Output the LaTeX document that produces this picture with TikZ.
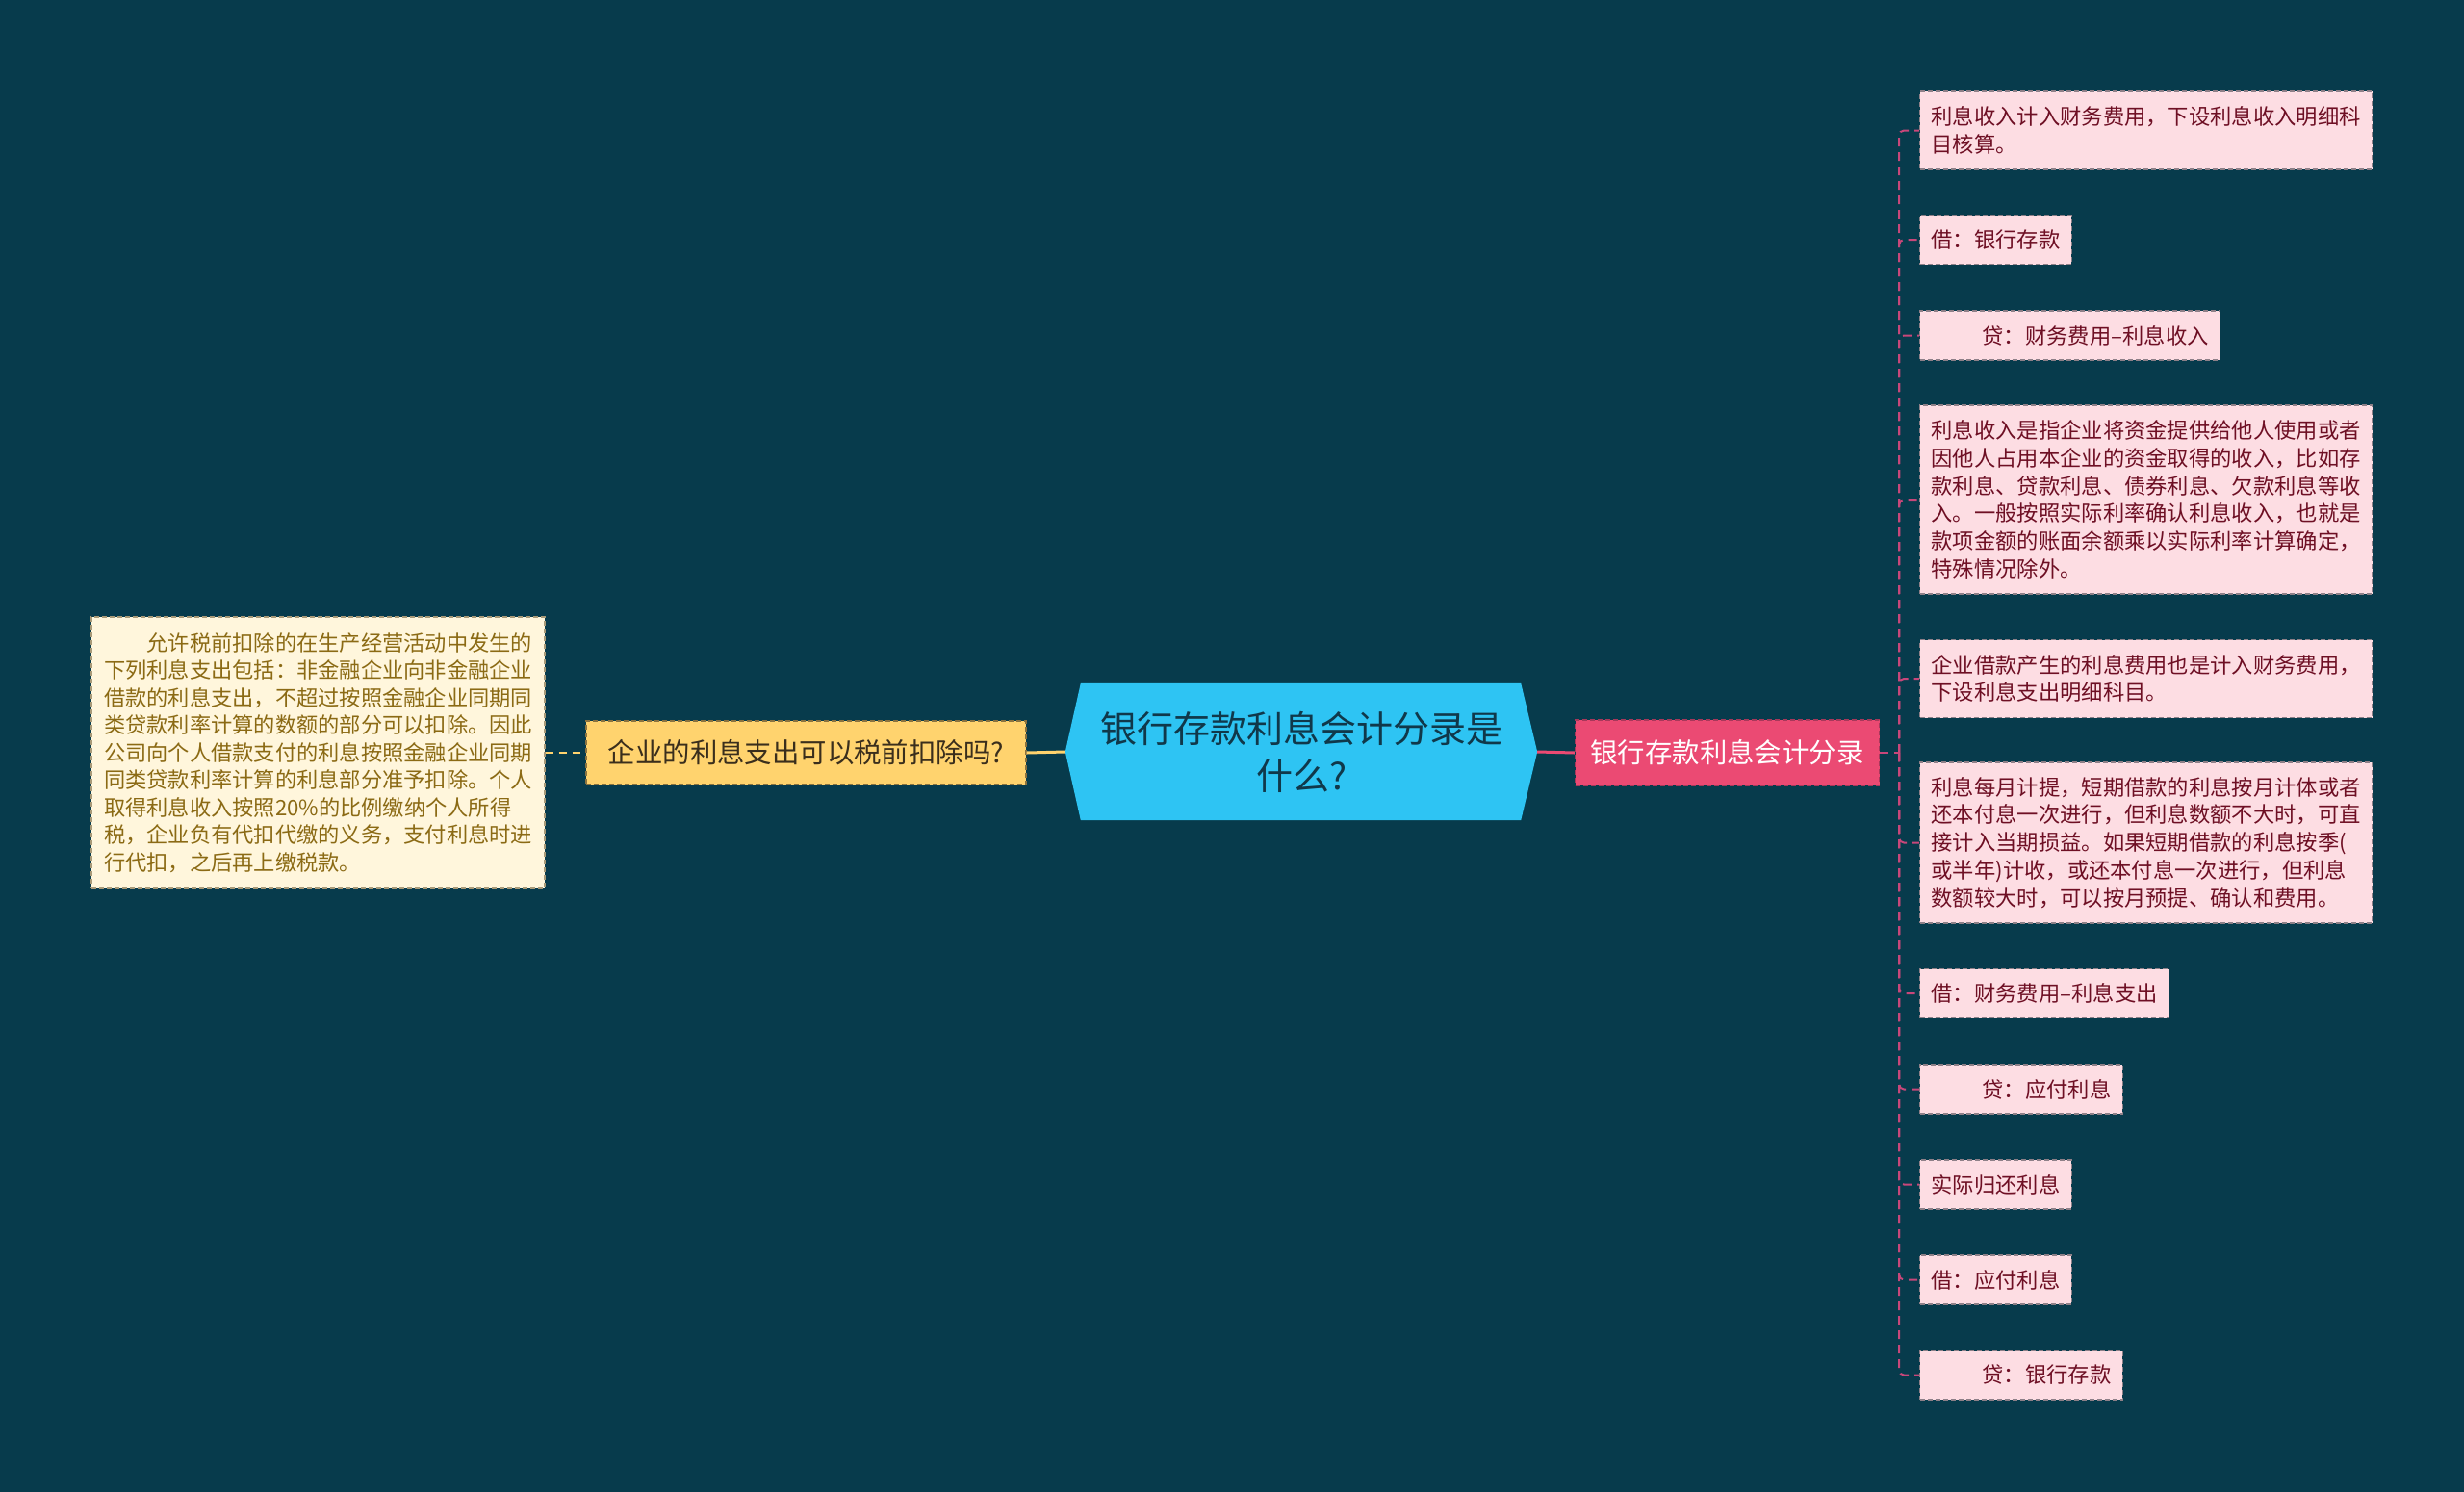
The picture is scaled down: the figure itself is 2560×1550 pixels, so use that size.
\documentclass[tikz,border=0pt]{standalone}
\usepackage{fontspec}
\setmainfont{Noto Sans CJK SC}
\definecolor{bg}{HTML}{073B4C}
\definecolor{rootfill}{HTML}{2EC4F3}
\definecolor{roottext}{HTML}{10384A}
\definecolor{yfill}{HTML}{FFD36E}
\definecolor{ytext}{HTML}{3A2E1C}
\definecolor{yborder}{HTML}{8A7340}
\definecolor{notefill}{HTML}{FFF6DC}
\definecolor{notetext}{HTML}{8B6A14}
\definecolor{noteborder}{HTML}{A89A78}
\definecolor{pfill}{HTML}{EB4A73}
\definecolor{pborder}{HTML}{A8385A}
\definecolor{pline}{HTML}{C8477A}
\definecolor{leaffill}{HTML}{FDDDE3}
\definecolor{leaftext}{HTML}{6E0F24}
\definecolor{leafborder}{HTML}{8E8088}
\tikzset{
  leafbox/.style={draw=leafborder, dash pattern=on 5pt off 3pt, line width=1.3pt,
    fill=leaffill, text=leaftext, font=\fontsize{22.3}{28.8}\selectfont,
    align=left, anchor=west, inner xsep=12pt, inner ysep=0pt},
  notebox/.style={draw=noteborder, dash pattern=on 5pt off 3pt, line width=1.3pt,
    fill=notefill, text=notetext, font=\fontsize{22.25}{28.5}\selectfont,
    align=left, inner xsep=12pt, inner ysep=0pt},
  ybox/.style={draw=yborder, dash pattern=on 5pt off 3pt, line width=1.3pt,
    fill=yfill, text=ytext, font=\fontsize{28.4}{34}\selectfont,
    inner xsep=23pt, inner ysep=0pt, minimum height=66pt},
  pbox/.style={draw=pborder, dash pattern=on 5pt off 3pt, line width=1.3pt,
    fill=pfill, text=white, font=\fontsize{28.4}{34}\selectfont,
    inner xsep=16pt, inner ysep=0pt, minimum height=68pt},
  pdash/.style={draw=pline, line width=2pt, dash pattern=on 9pt off 6pt, rounded corners=5pt},
}
\begin{document}
\begin{tikzpicture}[x=1pt,y=-1pt]
\fill[bg] (0,0) rectangle (2560,1550);
\useasboundingbox (0,0) rectangle (2560,1550);

% root
\path (1352,781) node[minimum width=490pt, minimum height=142pt, inner sep=0pt] (root) {};
\fill[rootfill] (root.west) -- ([shift={(16,0)}]root.north west) -- ([shift={(-17,0)}]root.north east)
  -- (root.east) -- ([shift={(-17,0)}]root.south east) -- ([shift={(16,0)}]root.south west) -- cycle;
\node[text=roottext, font=\fontsize{38}{49}\selectfont, align=center] (roottxt) at (root.center)
  {银行存款利息会计分录是\\什么?};

% left side
\node[ybox] (yq) at (837.5,782) {企业的利息支出可以税前扣除吗?};
\node[notebox, minimum width=471pt, minimum height=282pt] (note) at (330.5,782)
  {\hspace*{44.5pt}允许税前扣除的在生产经营活动中发生的\\
   下列利息支出包括：非金融企业向非金融企业\\
   借款的利息支出，不超过按照金融企业同期同\\
   类贷款利率计算的数额的部分可以扣除。因此\\
   公司向个人借款支付的利息按照金融企业同期\\
   同类贷款利率计算的利息部分准予扣除。个人\\
   取得利息收入按照20\%的比例缴纳个人所得\\
   税，企业负有代扣代缴的义务，支付利息时进\\
   行代扣，之后再上缴税款。};

% right side
\node[pbox] (br) at (1794.5,782) {银行存款利息会计分录};

\node[leafbox, minimum height=81pt] (l1) at (1994,135.5)
  {利息收入计入财务费用，下设利息收入明细科\\目核算。};
\node[leafbox, minimum height=51pt] (l2) at (1994,249) {借：银行存款};
\node[leafbox, minimum height=51pt] (l3) at (1994,348.5) {\hspace*{53pt}贷：财务费用–利息收入};
\node[leafbox, minimum height=196pt] (l4) at (1994,519)
  {利息收入是指企业将资金提供给他人使用或者\\
   因他人占用本企业的资金取得的收入，比如存\\
   款利息、贷款利息、债券利息、欠款利息等收\\
   入。一般按照实际利率确认利息收入，也就是\\
   款项金额的账面余额乘以实际利率计算确定，\\
   特殊情况除外。};
\node[leafbox, minimum height=81pt] (l5) at (1994,705)
  {企业借款产生的利息费用也是计入财务费用，\\下设利息支出明细科目。};
\node[leafbox, minimum height=167pt] (l6) at (1994,875.5)
  {利息每月计提，短期借款的利息按月计体或者\\
   还本付息一次进行，但利息数额不大时，可直\\
   接计入当期损益。如果短期借款的利息按季(\\
   或半年)计收，或还本付息一次进行，但利息\\
   数额较大时，可以按月预提、确认和费用。};
\node[leafbox, minimum height=51pt] (l7) at (1994,1032) {借：财务费用–利息支出};
\node[leafbox, minimum height=51pt] (l8) at (1994,1131.5) {\hspace*{53pt}贷：应付利息};
\node[leafbox, minimum height=51pt] (l9) at (1994,1230.5) {实际归还利息};
\node[leafbox, minimum height=51pt] (l10) at (1994,1329.5) {借：应付利息};
\node[leafbox, minimum height=51pt] (l11) at (1994,1428.5) {\hspace*{53pt}贷：银行存款};

% connectors
\draw[yfill, line width=3pt] (yq.east) -- (root.west);
\draw[yfill, line width=2pt, dash pattern=on 8pt off 6pt] (note.east) -- (yq.west);
\draw[pfill, line width=3pt] (root.east) -- (br.west);
\coordinate (hub) at ([shift={(20,0)}]br.east);
\draw[pdash] (br.east) -- (hub);
\foreach \i in {1,...,11} {\draw[pdash] (hub) |- (l\i.west);}
\end{tikzpicture}
\end{document}
